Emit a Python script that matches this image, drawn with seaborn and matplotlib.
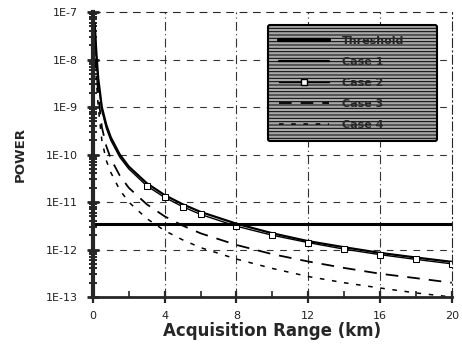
import matplotlib
matplotlib.use('Agg')
import matplotlib.pyplot as plt
import matplotlib.ticker as mticker
from matplotlib.lines import Line2D
import seaborn as sns
import pandas as pd
import numpy as np

# values (range in km, power on log scale)
range_km = [0.1, 0.2, 0.3, 0.5, 0.75, 1, 1.5, 2, 3, 4, 5, 6, 8, 10, 12, 14, 16, 18, 20]
power_1 = [6e-8, 1.3e-8, 4e-9, 1.0e-9, 4.2e-10, 2.3e-10, 1.0e-10, 5.6e-11, 2.5e-11, 1.4e-11,
           9e-12, 6.2e-12, 3.5e-12, 2.2e-12, 1.5e-12, 1.12e-12, 8.5e-13, 6.8e-13, 5.5e-13]
power_2 = [5e-8, 1.1e-8, 3.4e-9, 8.5e-10, 3.6e-10, 2.0e-10, 8.8e-11, 5.0e-11, 2.2e-11, 1.25e-11,
           8e-12, 5.5e-12, 3.1e-12, 2.0e-12, 1.4e-12, 1.02e-12, 7.8e-13, 6.2e-13, 5.0e-13]
power_3 = [3e-8, 6e-9, 1.8e-9, 3.8e-10, 1.5e-10, 8.2e-11, 3.6e-11, 2.0e-11, 9e-12, 5.0e-12,
           3.2e-12, 2.2e-12, 1.25e-12, 8e-13, 5.6e-13, 4.1e-13, 3.1e-13, 2.5e-13, 2.0e-13]
power_4 = [1.5e-8, 3.5e-9, 1e-9, 2e-10, 7.5e-11, 4.2e-11, 1.8e-11, 1.0e-11, 4.5e-12, 2.5e-12,
           1.6e-12, 1.1e-12, 6.3e-13, 4.0e-13, 2.7e-13, 2.0e-13, 1.55e-13, 1.22e-13, 1.0e-13]
threshold = 3.5e-12

labels = ['Threshold', 'Case 1', 'Case 2', 'Case 3', 'Case 4']
x_ticks = [0, 4, 8, 12, 16, 20]
y_ticks = [1e-13, 1e-12, 1e-11, 1e-10, 1e-9, 1e-8, 1e-7]
y_labels = ['1E-13', '1E-12', '1E-11', '1E-10', '1E-9', '1E-8', '1E-7']

sns.set_style('ticks')
plt.rcParams['font.family'] = ['DejaVu Sans']
plt.rcParams['hatch.linewidth'] = 0.7

fig = plt.figure(figsize=(4.62, 3.47), dpi=100)
ax = fig.add_axes([0.201, 0.144, 0.777, 0.821])

df = pd.DataFrame({'range': range_km, 'p1': power_1, 'p2': power_2,
                   'p3': power_3, 'p4': power_4})

sns.lineplot(data=df, x='range', y='p1', ax=ax, color='black', lw=1.6)
sns.lineplot(data=df, x='range', y='p2', ax=ax, color='black', lw=1.0,
             marker='s', markersize=4, markerfacecolor='white', markeredgecolor='black',
             markevery=list(range(8, 19)))
sns.lineplot(data=df, x='range', y='p3', ax=ax, color='black', lw=1.3,
             linestyle=(0, (7, 5)))
sns.lineplot(data=df, x='range', y='p4', ax=ax, color='black', lw=1.1,
             linestyle=(0, (3, 5)))
ax.axhline(threshold, color='black', lw=2.2)

ax.set_yscale('log')
ax.set_xlim(0, 20)
ax.set_ylim(1e-13, 1e-7)
ax.set_xticks(x_ticks)
ax.set_xticklabels([str(t) for t in x_ticks], fontsize=8, color='#222222')
ax.xaxis.set_minor_locator(mticker.MultipleLocator(2))
ax.set_yticks(y_ticks)
ax.set_yticklabels(y_labels, fontsize=8, color='#222222')
ax.yaxis.set_minor_locator(mticker.LogLocator(base=10, subs=np.arange(2, 10), numticks=20))
ax.yaxis.set_minor_formatter(mticker.NullFormatter())

ax.tick_params(axis='y', which='major', direction='inout', length=9, width=2, pad=6)
ax.tick_params(axis='y', which='minor', direction='inout', length=6, width=1.4)
ax.tick_params(axis='x', which='major', direction='inout', length=8, width=1.6, pad=6)
ax.tick_params(axis='x', which='minor', direction='in', length=4, width=1.2)

# grid: dashed horizontal decades, dash-dot verticals
for yv in y_ticks[1:-1]:
    ax.axhline(yv, color='#333333', lw=0.8, linestyle=(0, (6, 6)), zorder=0)
for xv in x_ticks[1:-1]:
    ax.axvline(xv, color='#333333', lw=0.8, linestyle=(0, (8, 3, 1, 3)), zorder=0)

ax.spines['left'].set_linewidth(3)
ax.spines['bottom'].set_linewidth(2)
ax.spines['top'].set_linewidth(0.8)
ax.spines['top'].set_linestyle((0, (6, 6)))
ax.spines['right'].set_linewidth(0.8)
ax.spines['right'].set_linestyle((0, (8, 3, 1, 3)))

ax.set_xlabel('Acquisition Range (km)', fontsize=12, fontweight='bold', labelpad=1)
ax.set_ylabel('POWER', fontsize=9.5, fontweight='bold', labelpad=14)

handles = [
    Line2D([], [], color='black', lw=3),
    Line2D([], [], color='black', lw=1.6),
    Line2D([], [], color='black', lw=1.0, marker='s', markersize=4,
           markerfacecolor='white'),
    Line2D([], [], color='black', lw=1.3, linestyle=(0, (7, 5))),
    Line2D([], [], color='black', lw=1.1, linestyle=(0, (3, 5))),
]
leg = ax.legend(handles, labels, loc='upper left',
                bbox_to_anchor=(0.487, 0.558, 0.471, 0.396), mode='expand',
                fontsize=8, fancybox=True, framealpha=1, borderpad=1.0,
                labelspacing=0.98, handlelength=4.5, handletextpad=1.2,
                borderaxespad=0)
frame = leg.get_frame()
frame.set_facecolor('#a8a8a8')
frame.set_edgecolor('black')
frame.set_linewidth(1.5)
frame.set_hatch('-----')
for t in leg.get_texts():
    t.set_fontweight('bold')

fig.savefig('out.png', dpi=100)
